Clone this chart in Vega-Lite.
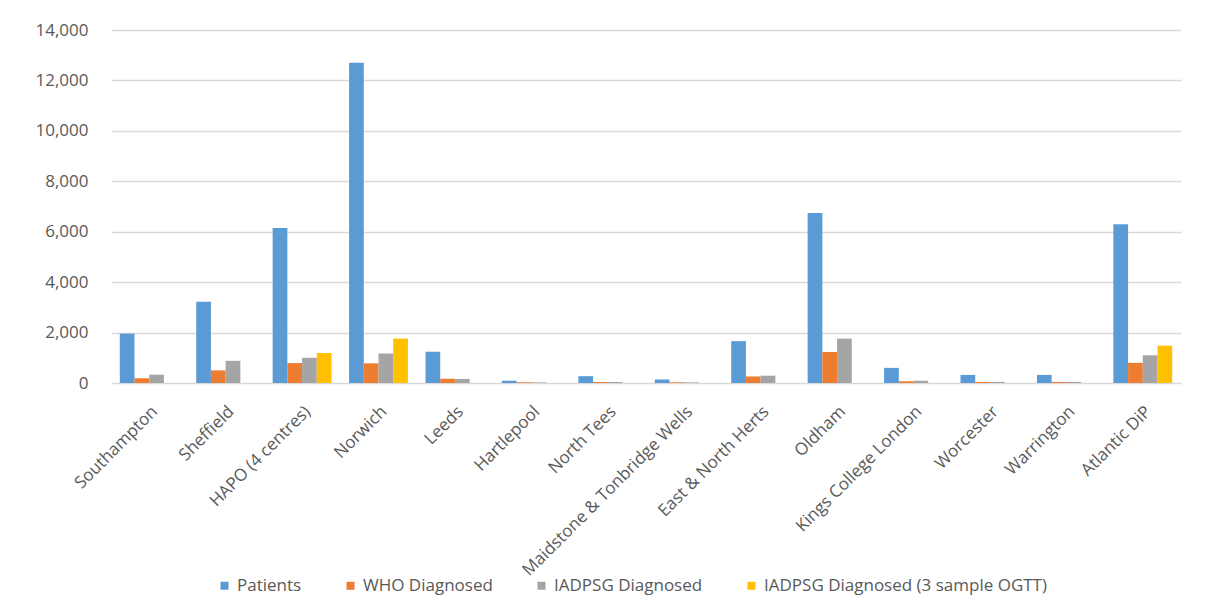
{
  "$schema": "https://vega.github.io/schema/vega-lite/v6.json",
  "width": 1070,
  "height": 353,
  "autosize": {"type": "none"},
  "padding": {"left": 111, "top": 30, "right": 30, "bottom": 225},
  "background": "white",
  "config": {"view": {"stroke": null}, "font": "Open Sans"},
  "data": {
    "values": [
      {"site": "Southampton", "series": "Patients", "value": 1960},
      {"site": "Southampton", "series": "WHO Diagnosed", "value": 190},
      {"site": "Southampton", "series": "IADPSG Diagnosed", "value": 330},
      {"site": "Sheffield", "series": "Patients", "value": 3220},
      {"site": "Sheffield", "series": "WHO Diagnosed", "value": 500},
      {"site": "Sheffield", "series": "IADPSG Diagnosed", "value": 880},
      {"site": "HAPO (4 centres)", "series": "Patients", "value": 6150},
      {"site": "HAPO (4 centres)", "series": "WHO Diagnosed", "value": 790},
      {"site": "HAPO (4 centres)", "series": "IADPSG Diagnosed", "value": 1000},
      {"site": "HAPO (4 centres)", "series": "IADPSG Diagnosed (3 sample OGTT)", "value": 1190},
      {"site": "Norwich", "series": "Patients", "value": 12700},
      {"site": "Norwich", "series": "WHO Diagnosed", "value": 780},
      {"site": "Norwich", "series": "IADPSG Diagnosed", "value": 1170},
      {"site": "Norwich", "series": "IADPSG Diagnosed (3 sample OGTT)", "value": 1760},
      {"site": "Leeds", "series": "Patients", "value": 1240},
      {"site": "Leeds", "series": "WHO Diagnosed", "value": 170},
      {"site": "Leeds", "series": "IADPSG Diagnosed", "value": 160},
      {"site": "Hartlepool", "series": "Patients", "value": 90},
      {"site": "Hartlepool", "series": "WHO Diagnosed", "value": 30},
      {"site": "Hartlepool", "series": "IADPSG Diagnosed", "value": 25},
      {"site": "North Tees", "series": "Patients", "value": 270},
      {"site": "North Tees", "series": "WHO Diagnosed", "value": 40},
      {"site": "North Tees", "series": "IADPSG Diagnosed", "value": 40},
      {"site": "Maidstone & Tonbridge Wells", "series": "Patients", "value": 140},
      {"site": "Maidstone & Tonbridge Wells", "series": "WHO Diagnosed", "value": 30},
      {"site": "Maidstone & Tonbridge Wells", "series": "IADPSG Diagnosed", "value": 25},
      {"site": "East & North Herts", "series": "Patients", "value": 1660},
      {"site": "East & North Herts", "series": "WHO Diagnosed", "value": 260},
      {"site": "East & North Herts", "series": "IADPSG Diagnosed", "value": 290},
      {"site": "Oldham", "series": "Patients", "value": 6740},
      {"site": "Oldham", "series": "WHO Diagnosed", "value": 1230},
      {"site": "Oldham", "series": "IADPSG Diagnosed", "value": 1760},
      {"site": "Kings College London", "series": "Patients", "value": 600},
      {"site": "Kings College London", "series": "WHO Diagnosed", "value": 70},
      {"site": "Kings College London", "series": "IADPSG Diagnosed", "value": 90},
      {"site": "Worcester", "series": "Patients", "value": 320},
      {"site": "Worcester", "series": "WHO Diagnosed", "value": 45},
      {"site": "Worcester", "series": "IADPSG Diagnosed", "value": 45},
      {"site": "Warrington", "series": "Patients", "value": 320},
      {"site": "Warrington", "series": "WHO Diagnosed", "value": 45},
      {"site": "Warrington", "series": "IADPSG Diagnosed", "value": 45},
      {"site": "Atlantic DiP", "series": "Patients", "value": 6300},
      {"site": "Atlantic DiP", "series": "WHO Diagnosed", "value": 800},
      {"site": "Atlantic DiP", "series": "IADPSG Diagnosed", "value": 1100},
      {"site": "Atlantic DiP", "series": "IADPSG Diagnosed (3 sample OGTT)", "value": 1480}
    ]
  },
  "mark": {"type": "bar"},
  "encoding": {
    "x": {
      "field": "site",
      "type": "nominal",
      "sort": null,
      "title": null,
      "scale": {"paddingInner": 0.23, "paddingOuter": 0.115},
      "axis": {
        "labelAngle": -45,
        "labelFontSize": 17,
        "labelColor": "#595959",
        "labelPadding": 20,
        "labelDx": -8,
        "ticks": false,
        "domain": false,
        "labelLimit": 400
      }
    },
    "xOffset": {
      "field": "series",
      "type": "nominal",
      "scale": {"domain": ["Patients", "WHO Diagnosed", "IADPSG Diagnosed", "IADPSG Diagnosed (3 sample OGTT)"]}
    },
    "y": {
      "field": "value",
      "type": "quantitative",
      "title": null,
      "scale": {"domain": [0, 14000]},
      "axis": {
        "values": [0, 2000, 4000, 6000, 8000, 10000, 12000, 14000],
        "format": ",.0f",
        "labelFontSize": 17,
        "labelColor": "#595959",
        "labelPadding": 23,
        "ticks": false,
        "domain": false,
        "gridColor": "#d9d9d9",
        "gridWidth": 1.5
      }
    },
    "color": {
      "field": "series",
      "type": "nominal",
      "scale": {
        "domain": ["Patients", "WHO Diagnosed", "IADPSG Diagnosed", "IADPSG Diagnosed (3 sample OGTT)"],
        "range": ["#5B9BD5", "#ED7D31", "#A5A5A5", "#FFC000"]
      },
      "legend": {
        "title": null,
        "orient": "none",
        "direction": "horizontal",
        "legendX": 105,
        "legendY": 547,
        "symbolType": "square",
        "symbolSize": 64,
        "labelOffset": 4,
        "labelFontSize": 17,
        "labelColor": "#595959",
        "columnPadding": 40,
        "labelLimit": 500
      }
    }
  }
}
